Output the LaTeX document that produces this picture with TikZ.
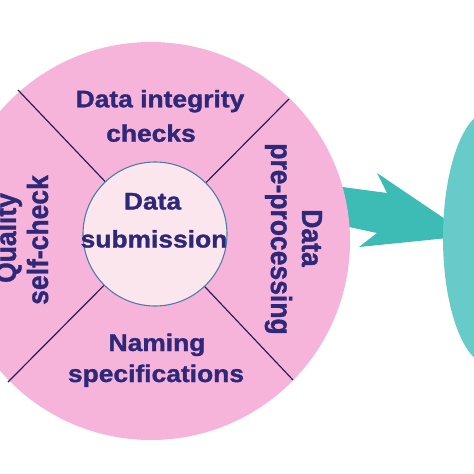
\documentclass[tikz,border=0pt]{standalone}
\usepackage{fontspec}
\setmainfont{Liberation Sans}[BoldFeatures={FakeBold=1.2}]
\usetikzlibrary{shapes.geometric}
\definecolor{pinkbg}{HTML}{F6B4DA}
\definecolor{innerbg}{HTML}{FCE6EE}
\definecolor{innerln}{HTML}{4E7DA6}
\definecolor{tealA}{HTML}{3CBCB4}
\definecolor{tealB}{HTML}{66CBC9}
\definecolor{navy}{HTML}{2D2878}
\definecolor{divln}{HTML}{2A2050}
\newcommand{\hstr}[1]{\scalebox{1.1}[1]{#1}}
\newcommand{\vstr}[1]{\scalebox{1}[1.1]{#1}}
\begin{document}
\begin{tikzpicture}[x=1pt,y=-1pt,
  hlbl/.style={text=navy, font=\fontsize{24}{28}\selectfont\bfseries, anchor=base, inner sep=0pt},
  vlbl/.style={text=navy, font=\fontsize{26.5}{30}\selectfont\bfseries, anchor=base, inner sep=0pt},
  divider/.style={draw=divln, line width=1.2pt}]
\useasboundingbox (0,0) rectangle (474,474);
% arrow
\fill[tealA] (335,186) -- (387,193) -- (377,173) -- (448,221) -- (448,238)
  -- (359,247) -- (377,233) -- (335,224) -- cycle;
% outer circle
\node[circle, fill=pinkbg, minimum size=398pt, inner sep=0pt] (out) at (151,241) {};
% dividers
\coordinate (ic) at (155,234);
\coordinate (tl) at (18,90);
\coordinate (tr) at (289,99);
\coordinate (bl) at (8,382);
\coordinate (br) at (293,380);
\draw[divider] (ic) -- (tl);
\draw[divider] (ic) -- (tr);
\draw[divider] (ic) -- (bl);
\draw[divider] (ic) -- (br);
% inner circle
\node[circle, fill=innerbg, draw=innerln, line width=1.1pt, minimum size=144pt, inner sep=0pt] (in) at (ic) {};
% teal target
\node[ellipse, fill=tealB, minimum width=94pt, minimum height=254pt, inner sep=0pt] (tgt) at (490,238) {};
% labels
\node[hlbl] (t1) at (160,107.3) {\hstr{Data integrity}};
\node[hlbl] (t2) at (151,141.7) {\hstr{checks}};
\node[hlbl] (c1) at (152.5,209.5) {\hstr{Data}};
\node[hlbl] (c2) at (154,247.5) {\hstr{submission}};
\node[hlbl] (b1) at (157,351) {\hstr{Naming}};
\node[hlbl] (b2) at (156,382) {\hstr{specifications}};
\node[vlbl, rotate=-90] (r1) at (302,238) {\vstr{Data}};
\node[vlbl, rotate=-90] (r2) at (271,239) {\vstr{pre-processing}};
\node[vlbl, rotate=90] (l1) at (16,238) {\vstr{Quality}};
\node[vlbl, rotate=90] (l2) at (48,240) {\vstr{self-check}};
\end{tikzpicture}
\end{document}
